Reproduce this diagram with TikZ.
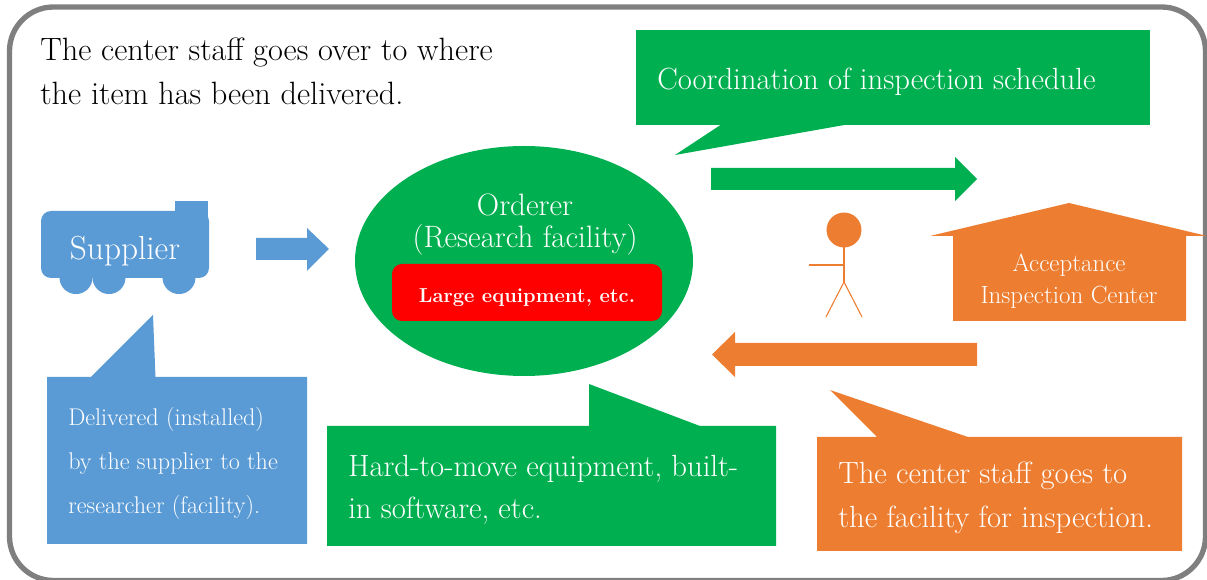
\documentclass[tikz,border=0pt]{standalone}
\definecolor{SupplierColor}{RGB}{91,155,213}
\definecolor{OrdererColor}{RGB}{0,176,80}
\definecolor{CenterColor}{RGB}{237,125,49}
\definecolor{FrameColor}{RGB}{127,127,127}
\usepackage{tikz}
\usetikzlibrary{positioning}
\tikzstyle{supplier} = [fill=SupplierColor, draw=none]
\tikzstyle{orderer} = [fill=OrdererColor, draw=none]
\tikzstyle{center} = [fill=CenterColor, draw=none]
\tikzstyle{stick} = [draw=CenterColor, line width=0.8pt]
\tikzstyle{label} = [text=white, inner sep=0pt, align=center]
\tikzstyle{note} = [text=white, inner sep=0pt, align=left, anchor=west]
\begin{document}
\begin{tikzpicture}[x=0.75pt, y=-0.75pt]
                \useasboundingbox (0,0) rectangle (1207,580);

                \begin{scope}
                \clip (0,0) rectangle (1207,580);
                \draw[draw=FrameColor, line width=4pt, rounded corners=33pt] (9.5,7) rectangle (1205.5,580.5);
                \end{scope}

                \node[inner sep=0pt, align=left, anchor=west, font=\fontsize{24.2}{33}\selectfont] (title) at (40,71) {The center staff goes over to where\\the item has been delivered.};

                \fill[supplier, rounded corners=7.5pt] (41,211) rectangle (209,278);
                \fill[supplier] (175,201) rectangle (208,225);
                \foreach \wx in {76, 109, 179} {
                    \fill[supplier] (\wx,277.5) circle (12.4pt);
                }
                \node[label, font=\fontsize{25}{28}\selectfont] (truck) at (125,251) {Supplier};
                \fill[supplier] (256,238) -- (307,238) -- (307,228) -- (329,249) -- (307,271) -- (307,260) -- (256,260) -- cycle;

                \fill[supplier] (47,377) -- (91,377) -- (153,315) -- (155.5,377) -- (307,377) -- (307,544) -- (47,544) -- cycle;
                \node[note, font=\fontsize{18.1}{33}\selectfont] (delivered) at (68,463.5) {Delivered (installed)\\by the supplier to the\\researcher (facility).};

                \fill[orderer] (524,261) ellipse [x radius=126.75pt, y radius=86.25pt];
                \node[label, font=\fontsize{23.2}{24}\selectfont] (facility) at (525,225) {Orderer\\(Research facility)};
                \fill[fill=red, rounded corners=7.5pt] (392,264) rectangle (662,321);
                \node[label, font=\fontsize{15.1}{18}\selectfont\bfseries] (equipment) at (527,298) {Large equipment, etc.};

                \fill[orderer] (636,30) rectangle (1150,125);
                \fill[orderer] (722,124) -- (675,155) -- (850,124) -- cycle;
                \node[note, font=\fontsize{23}{28}\selectfont] (schedule) at (657,82) {Coordination of inspection schedule};
                \fill[orderer] (711,168) -- (955,168) -- (955,157) -- (977,179) -- (955,201) -- (955,190) -- (711,190) -- cycle;

                \fill[center] (844,230) circle (13.1pt);
                \draw[stick] (844,247) -- (844,282);
                \draw[stick] (809,265) -- (844,265);
                \draw[stick] (826,317) -- (844,282) -- (862,317);

                \fill[center] (1069,203) -- (1207,236) -- (1186,236) -- (1186,321) -- (953,321) -- (953,236) -- (930,236) -- cycle;
                \node[label, font=\fontsize{18.7}{24}\selectfont] (inspection) at (1069,281) {Acceptance\\Inspection Center};
                \fill[center] (977,343) -- (735,343) -- (735,332) -- (712,354.5) -- (735,377) -- (735,366) -- (977,366) -- cycle;

                \fill[orderer] (327,426) -- (589,426) -- (589,384) -- (700,426) -- (776,426) -- (776,546) -- (327,546) -- cycle;
                \node[note, font=\fontsize{23}{31.5}\selectfont] (software) at (348,489.5) {Hard-to-move equipment, built-\\in software, etc.};

                \fill[center] (817,437) -- (877,437) -- (830,390) -- (968,437) -- (1182,437) -- (1182,551) -- (817,551) -- cycle;
                \node[note, font=\fontsize{23}{33}\selectfont] (staff) at (838,498) {The center staff goes to\\the facility for inspection.};
            \end{tikzpicture}
\end{document}
